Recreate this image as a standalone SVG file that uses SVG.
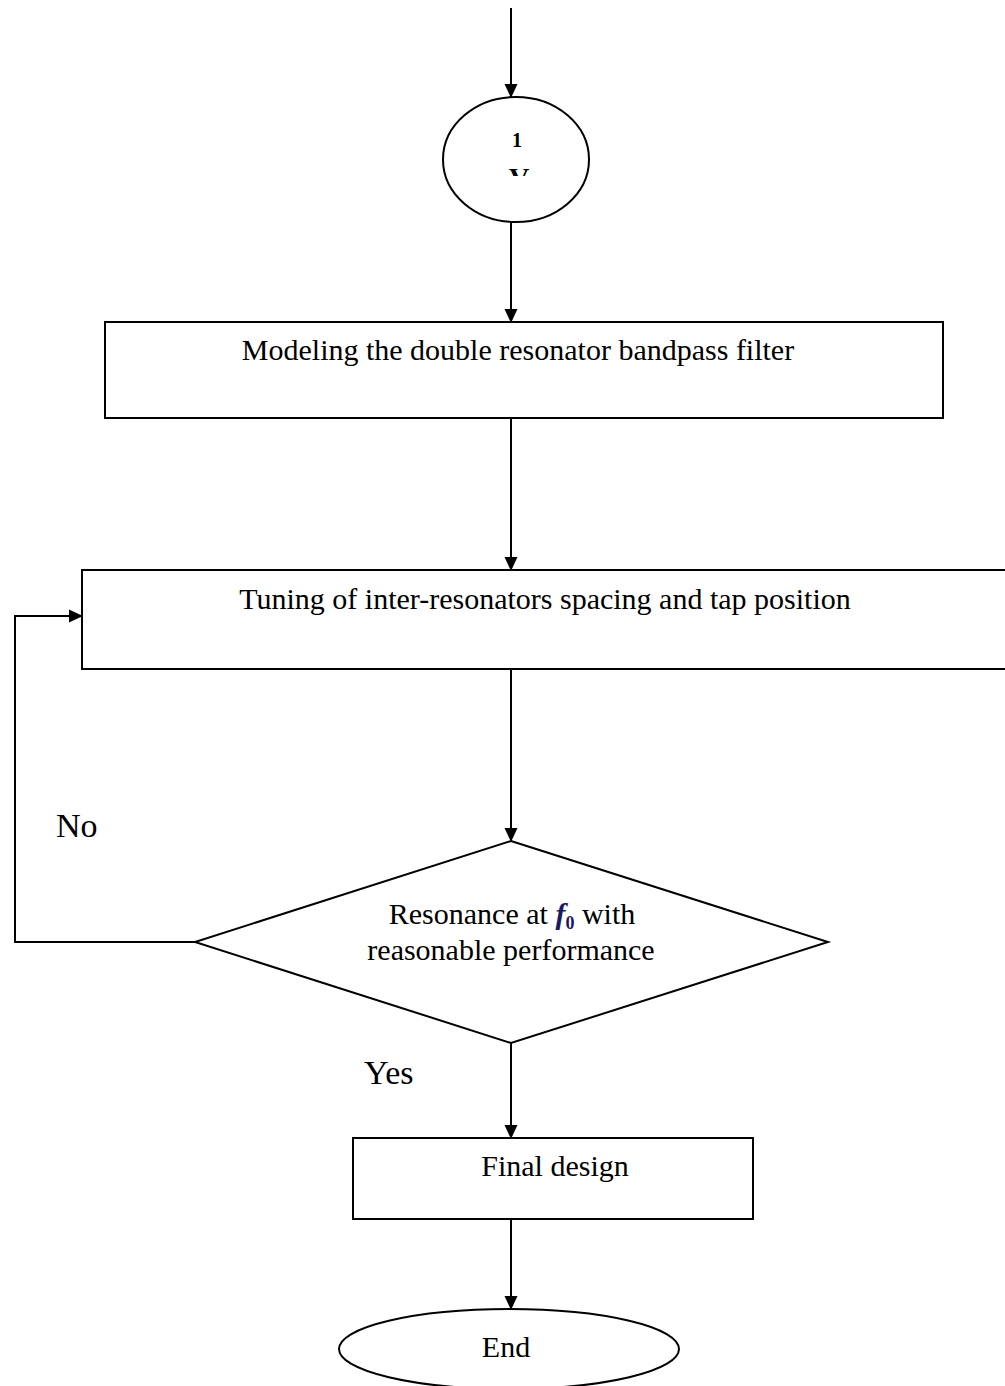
<svg xmlns="http://www.w3.org/2000/svg" width="1005" height="1386" viewBox="0 0 1005 1386">
<style>
.shape{fill:#fff;stroke:#000;stroke-width:2}
.line{fill:none;stroke:#000;stroke-width:2}
.t{font-family:"Liberation Serif","Times New Roman",serif;font-size:30px;fill:#000}
.lbl{font-size:34px}
.c{text-anchor:middle}
</style>
<defs>
<marker id="arr" markerWidth="14" markerHeight="15" refX="14" refY="7" orient="auto" markerUnits="userSpaceOnUse" viewBox="0 0 15 14">
<path d="M0,0 L15,7 L0,14 Z" fill="#000"/>
</marker>
<clipPath id="vclip"><rect x="480" y="150" width="80" height="26"/></clipPath>
</defs>
<rect width="1005" height="1386" fill="#fff"/>
<g id="connectors">
<line class="line" x1="511" y1="8" x2="511" y2="97" marker-end="url(#arr)"/>
<line class="line" x1="511" y1="222" x2="511" y2="322" marker-end="url(#arr)"/>
<line class="line" x1="511" y1="418" x2="511" y2="570" marker-end="url(#arr)"/>
<line class="line" x1="511" y1="669" x2="511" y2="841" marker-end="url(#arr)"/>
<polyline class="line" points="195,942 15,942 15,616 82,616" marker-end="url(#arr)"/>
<line class="line" x1="511" y1="1043" x2="511" y2="1138" marker-end="url(#arr)"/>
<line class="line" x1="511" y1="1219" x2="511" y2="1309" marker-end="url(#arr)"/>
<text class="t lbl" x="56" y="837">No</text>
<text class="t lbl" x="364" y="1084">Yes</text>
</g>
<g id="connector-circle">
<ellipse class="shape" cx="516" cy="159.5" rx="73" ry="62.5"/>
<text class="t c" x="517" y="147" style="font-size:20px;font-weight:bold">1</text>
<text class="t c" x="519" y="187" style="font-size:28px;font-weight:bold" clip-path="url(#vclip)">V</text>
</g>
<g id="modeling">
<rect class="shape" x="105" y="322" width="838" height="96"/>
<text class="t c" x="518" y="360">Modeling the double resonator bandpass filter</text>
</g>
<g id="tuning">
<rect class="shape" x="82" y="570" width="930" height="99"/>
<text class="t c" x="545" y="609">Tuning of inter-resonators spacing and tap position</text>
</g>
<g id="decision">
<polygon class="shape" points="511,841 828,942 511,1043 195,942"/>
<text class="t c" x="512" y="924">Resonance at <tspan style="font-style:italic;font-weight:bold" fill="#1a1a60">f</tspan><tspan style="font-size:18px;font-weight:bold" fill="#1a1a60" dy="5">0</tspan><tspan dy="-5"> with</tspan></text>
<text class="t c" x="511" y="960">reasonable performance</text>
</g>
<g id="final">
<rect class="shape" x="353" y="1138" width="400" height="81"/>
<text class="t c" x="555" y="1176">Final design</text>
</g>
<g id="end">
<ellipse class="shape" cx="509" cy="1349" rx="170" ry="40"/>
<text class="t c" x="506" y="1357">End</text>
</g>
</svg>
